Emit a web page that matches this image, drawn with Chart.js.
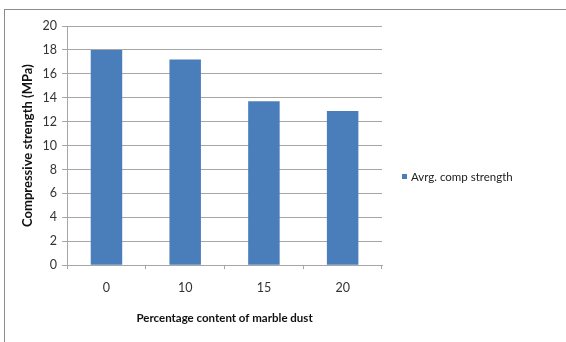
<!DOCTYPE html>
<html>
<head>
<meta charset="utf-8">
<script src="https://cdn.jsdelivr.net/npm/chart.js@4/dist/chart.umd.min.js"></script>
<style>
    html, body { margin: 0; padding: 0; background: #fff; }
    #wrap { width: 566px; height: 342px; }
</style>
</head>
<body>
<div id="wrap"><canvas id="strengthChart" width="566" height="342"></canvas></div>
<script>
// compressive strength vs marble dust content
const categories = ['0', '10', '15', '20'];
const strengthValues = [18.0, 17.2, 13.7, 12.9];
const seriesName = 'Avrg. comp strength';
const yTicks = [0, 2, 4, 6, 8, 10, 12, 14, 16, 18, 20];

const FONT = 'Lato, "Open Sans", sans-serif';
const GRID = '#a6a6a6';
const BAR = '#4a7ebb';

// thin grey frame round the whole figure
const framePlugin = {
    id: 'frame',
    beforeDraw(chart) {
        const ctx = chart.ctx;
        ctx.save();
        ctx.strokeStyle = '#8c8c8c';
        ctx.lineWidth = 1;
        ctx.strokeRect(4.5, 9.5, 700, 500);
        ctx.restore();
    }
};

// series key to the right of the plot, vertically centred on the figure
const sideLegend = {
    id: 'sideLegend',
    afterDraw(chart) {
        const ctx = chart.ctx;
        const ds = chart.data.datasets[0];
        const x = chart.chartArea.right + 20;
        const y = 177;
        ctx.save();
        ctx.fillStyle = ds.backgroundColor;
        ctx.fillRect(x, y - 3, 5, 5);
        ctx.fillStyle = '#222';
        ctx.font = `11.5px ${FONT}`;
        ctx.textBaseline = 'middle';
        ctx.fillText(ds.label, x + 9, y);
        ctx.restore();
    }
};

new Chart(document.getElementById('strengthChart'), {
    type: 'bar',
    data: {
        labels: categories,
        datasets: [{
            label: seriesName,
            data: strengthValues,
            backgroundColor: BAR,
            borderWidth: 0,
            barPercentage: 0.4,
            categoryPercentage: 1.0
        }]
    },
    options: {
        responsive: false,
        animation: false,
        layout: { padding: { top: 26, right: 184, bottom: 14, left: 20 } },
        plugins: {
            legend: { display: false },
            tooltip: { enabled: false }
        },
        scales: {
            x: {
                grid: {
                    offset: true,
                    drawOnChartArea: false,
                    drawTicks: true,
                    tickLength: 4,
                    color: GRID
                },
                border: { color: GRID },
                ticks: {
                    color: '#333',
                    padding: 11,
                    font: { family: FONT, size: 12.5 }
                },
                title: {
                    display: true,
                    text: 'Percentage content of marble dust',
                    color: '#111',
                    padding: { top: 5, bottom: 3 },
                    font: { family: FONT, size: 11.5, weight: 'bold' }
                }
            },
            y: {
                min: 0,
                max: 20,
                afterBuildTicks: axis => { axis.ticks = yTicks.map(v => ({ value: v })); },
                grid: {
                    color: GRID,
                    tickLength: 5
                },
                border: { color: GRID },
                ticks: {
                    color: '#333',
                    padding: 5,
                    font: { family: FONT, size: 12.5 }
                },
                title: {
                    display: true,
                    text: 'Compressive strength (MPa)',
                    color: '#111',
                    padding: { top: 0, bottom: 2 },
                    font: { family: FONT, size: 13, weight: 'bold' }
                }
            }
        }
    },
    plugins: [framePlugin, sideLegend]
});
</script>
</body>
</html>
